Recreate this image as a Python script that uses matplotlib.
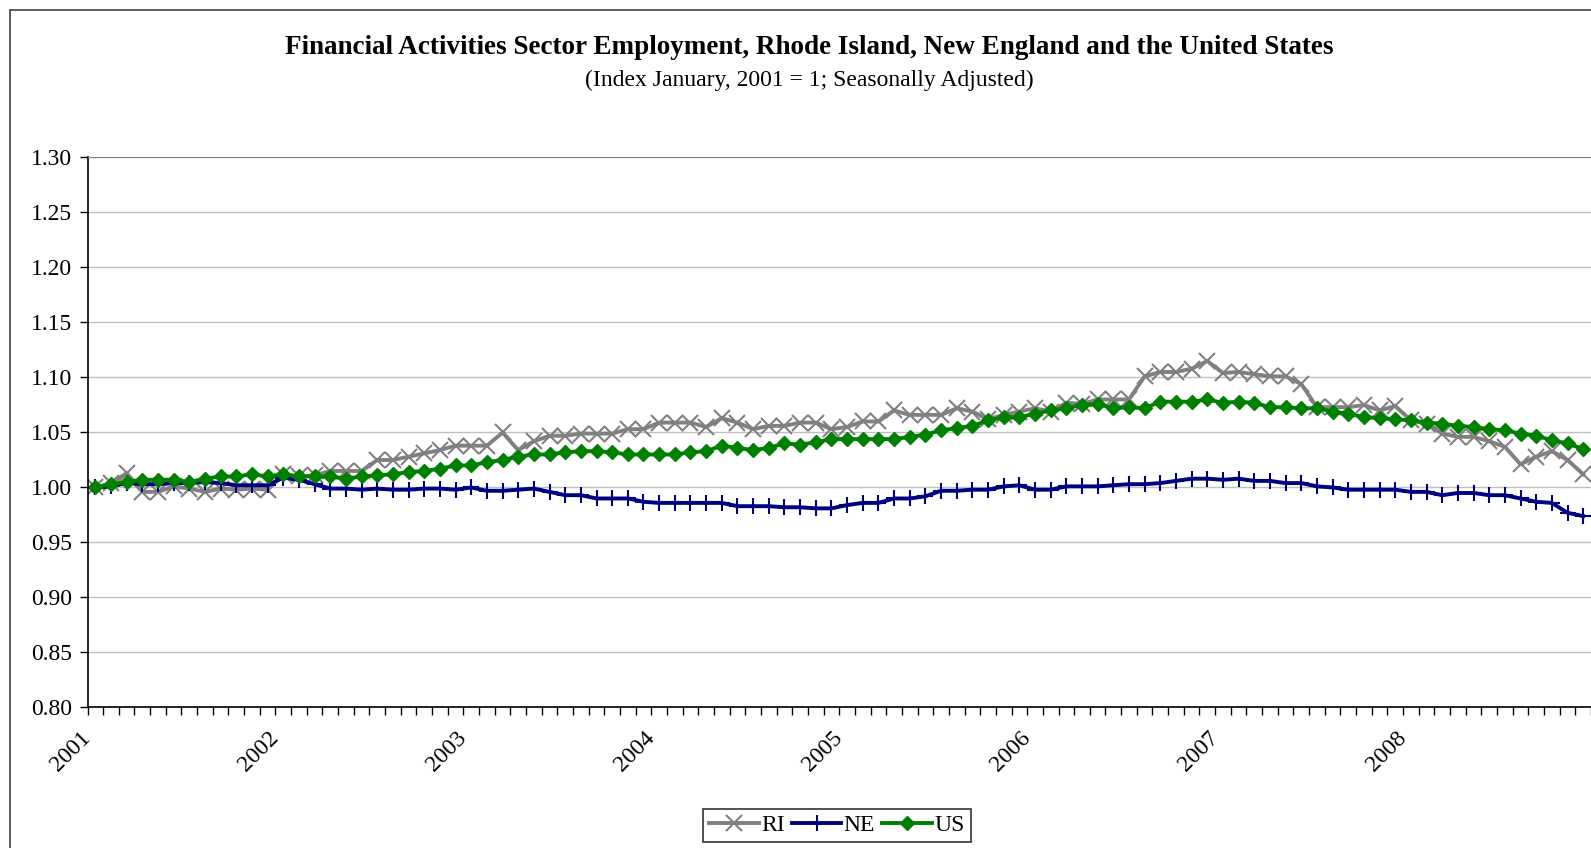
import matplotlib
matplotlib.use("Agg")
import matplotlib.pyplot as plt
import matplotlib.patches as mpatches
import numpy as np

# monthly index, Jan 2001 = 1 (Jan 2001 .. Dec 2008)
years = ["2001", "2002", "2003", "2004", "2005", "2006", "2007", "2008"]

ri = [1.000, 1.004, 1.013, 0.996, 0.996, 1.001, 0.999, 0.996, 0.999, 0.998, 0.999, 0.998,
      1.012, 1.010, 1.011, 1.015, 1.015, 1.015, 1.025, 1.025, 1.028, 1.031, 1.034, 1.038,
      1.038, 1.038, 1.050, 1.034, 1.042, 1.047, 1.047, 1.049, 1.049, 1.049, 1.053, 1.053,
      1.059, 1.059, 1.059, 1.055, 1.063, 1.059, 1.053, 1.056, 1.056, 1.059, 1.059, 1.053,
      1.055, 1.060, 1.060, 1.070, 1.066, 1.066, 1.066, 1.072, 1.069, 1.062, 1.066, 1.069,
      1.072, 1.069, 1.077, 1.076, 1.080, 1.080, 1.080, 1.101, 1.105, 1.105, 1.108, 1.115,
      1.104, 1.105, 1.103, 1.101, 1.101, 1.094, 1.073, 1.073, 1.073, 1.075, 1.070, 1.074,
      1.061, 1.058, 1.049, 1.046, 1.046, 1.042, 1.037, 1.021, 1.028, 1.033, 1.025, 1.012]

ne = [1.000, 1.001, 1.004, 1.003, 1.003, 1.004, 1.004, 1.005, 1.004, 1.002, 1.002, 1.002,
      1.009, 1.007, 1.003, 0.999, 0.999, 0.998, 0.999, 0.998, 0.998, 0.999, 0.999, 0.998,
      1.000, 0.997, 0.997, 0.998, 0.999, 0.996, 0.993, 0.993, 0.990, 0.990, 0.990, 0.987,
      0.986, 0.986, 0.986, 0.986, 0.986, 0.983, 0.983, 0.983, 0.982, 0.982, 0.981, 0.981,
      0.984, 0.986, 0.986, 0.990, 0.990, 0.992, 0.997, 0.997, 0.998, 0.998, 1.001, 1.002,
      0.998, 0.998, 1.001, 1.001, 1.001, 1.002, 1.003, 1.003, 1.004, 1.006, 1.008, 1.008,
      1.007, 1.008, 1.006, 1.006, 1.004, 1.004, 1.001, 1.000, 0.998, 0.998, 0.998, 0.998,
      0.996, 0.996, 0.993, 0.995, 0.995, 0.993, 0.993, 0.990, 0.987, 0.986, 0.977, 0.974]

us = [1.000, 1.003, 1.005, 1.007, 1.007, 1.007, 1.005, 1.008, 1.010, 1.010, 1.012, 1.010,
      1.012, 1.010, 1.010, 1.010, 1.008, 1.010, 1.011, 1.012, 1.014, 1.015, 1.017, 1.020,
      1.020, 1.023, 1.025, 1.028, 1.030, 1.030, 1.032, 1.033, 1.033, 1.032, 1.030, 1.030,
      1.030, 1.030, 1.032, 1.033, 1.038, 1.036, 1.034, 1.036, 1.040, 1.039, 1.041, 1.044,
      1.044, 1.044, 1.044, 1.044, 1.046, 1.048, 1.052, 1.054, 1.056, 1.061, 1.064, 1.064,
      1.067, 1.070, 1.072, 1.075, 1.076, 1.072, 1.073, 1.072, 1.078, 1.078, 1.078, 1.080,
      1.077, 1.078, 1.077, 1.073, 1.073, 1.072, 1.072, 1.069, 1.067, 1.064, 1.063, 1.062,
      1.061, 1.059, 1.058, 1.056, 1.055, 1.053, 1.052, 1.049, 1.047, 1.043, 1.040, 1.035]

plt.rcParams['font.family'] = ['Liberation Serif', 'DejaVu Serif']

fig = plt.figure(figsize=(15.91, 8.48), dpi=100)
ax = fig.add_axes([0.055, 0.1657, 0.945, 0.6486])

# chart area border
fig.patches.append(mpatches.Rectangle((10 / 1591, -0.05), 1.1, 1 - 10 / 848 + 0.05,
                                      transform=fig.transFigure, fill=False,
                                      edgecolor='#404040', linewidth=1.2))

x = np.arange(len(ri)) + 0.5
ax.plot(x, ri, color='#808080', lw=2.8, marker='x', ms=11, mew=1.5, label='RI')
ax.plot(x, ne, color='#000080', lw=2.8, marker='+', ms=11, mew=1.5, label='NE')
ax.plot(x, us, color='#008000', lw=2.8, marker='D', ms=7.5, label='US')

ax.set_xlim(0, 96)
ax.set_ylim(0.80, 1.30)
ax.set_yticks(np.arange(0.80, 1.301, 0.05))
ax.yaxis.set_major_formatter(matplotlib.ticker.FormatStrFormatter('%.2f'))
ax.yaxis.grid(True, color='#c0c0c0', lw=1)
ax.set_axisbelow(True)

ax.set_xticks(np.arange(0, 96, 12))
ax.set_xticklabels(years, rotation=45, ha='right', va='center', rotation_mode='anchor')
ax.set_xticks(np.arange(0, 97, 1), minor=True)
ax.tick_params(axis='both', which='both', direction='out', length=6, width=1,
               labelsize=17, color='black')
ax.tick_params(axis='x', which='major', pad=14)
ax.tick_params(axis='y', which='major', pad=5)

ax.spines['right'].set_visible(False)
ax.spines['top'].set_color('#808080')
ax.spines['left'].set_linewidth(1.2)
ax.spines['bottom'].set_linewidth(1.2)

fig.text(0.5085, 0.9438, 'Financial Activities Sector Employment, Rhode Island, New England and the United States',
         ha='center', va='center', fontsize=19.5, fontweight='bold')
fig.text(0.5085, 0.9057, '(Index January, 2001 = 1; Seasonally Adjusted)',
         ha='center', va='center', fontsize=17)

leg = fig.legend(loc='center', bbox_to_anchor=(0.526, 0.0265), ncol=3, fontsize=17,
                 frameon=True, fancybox=False, edgecolor='black', handlelength=2.1,
                 handletextpad=0.1, columnspacing=0.3, borderpad=0.25)
leg.get_frame().set_linewidth(1.2)

fig.savefig('out.png', dpi=100)
